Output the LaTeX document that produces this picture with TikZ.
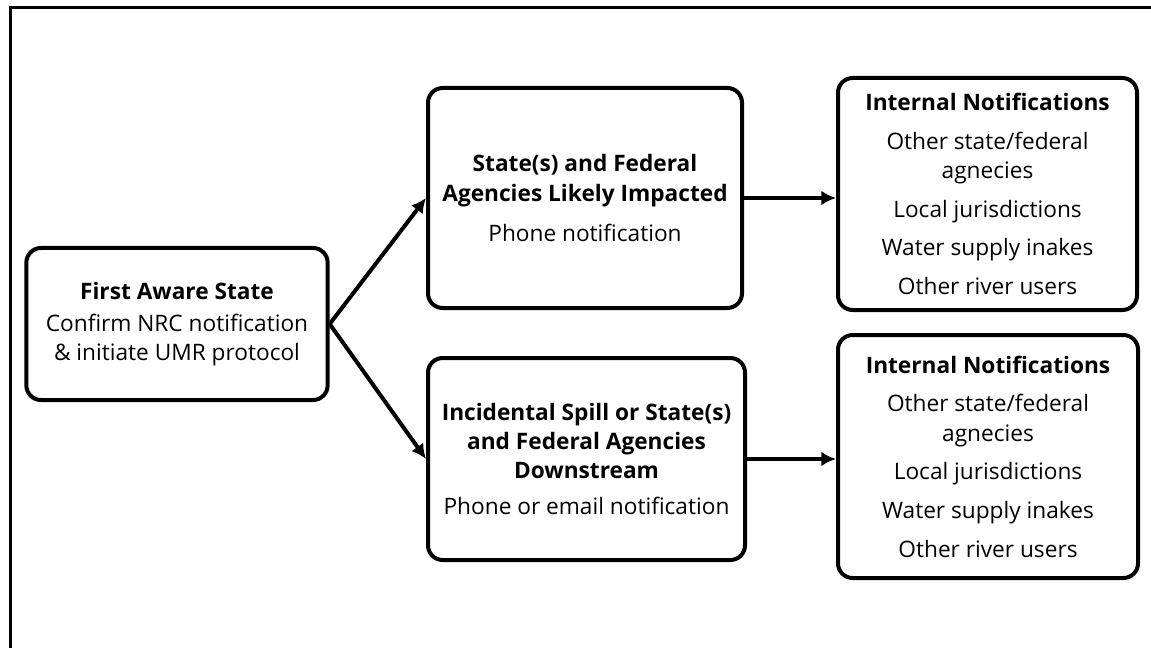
\documentclass[tikz,border=0pt]{standalone}
\usepackage{fontspec}
\setmainfont{Open Sans}
\usetikzlibrary{arrows.meta}

\newcommand{\internallist}{\textbf{Internal Notifications}\\[7pt] Other state/federal\\ agnecies\\[7pt] Local jurisdictions\\[7pt] Water supply inakes\\[7pt] Other river users}

\begin{document}
\begin{tikzpicture}[x = 0.75pt, y = -0.75pt, > = {Latex[length = 11pt, width = 11pt]},
	stage/.style = {draw, line width = 3pt, rounded corners = 11pt, align = center, inner sep = 0pt, font = \fontsize{17}{22}\selectfont},
	flow/.style = {->, line width = 3pt}]

	\useasboundingbox (0, 0) rectangle (1151, 648);

	% Frame

	\draw [line width = 2pt] (10.5, 648) -- (10.5, 7.5) -- (1151, 7.5);

	% Boxes

	\node [stage, minimum width = 226pt, minimum height = 114pt] (aware) at (177, 324)
		{\textbf{First Aware State}\\[2pt] Confirm NRC notification\\ \& initiate UMR protocol};
	\node [stage, minimum width = 235.5pt, minimum height = 165pt] (likely) at (585, 198)
		{\textbf{State(s) and Federal}\\ \textbf{Agencies Likely Impacted}\\[8pt] Phone notification};
	\node [stage, minimum width = 237.75pt, minimum height = 151.5pt] (downstream) at (586.5, 459)
		{\textbf{Incidental Spill or State(s)}\\ \textbf{and Federal Agencies}\\ \textbf{Downstream}\\[5pt] Phone or email notification};
	\node [stage, minimum width = 224.25pt, minimum height = 174pt] (internalA) at (987.5, 194) {\internallist};
	\node [stage, minimum width = 225pt, minimum height = 182.25pt] (internalB) at (988, 456.5) {\internallist};

	% Arrows

	\draw [flow] (aware.east) -- (likely.west);
	\draw [flow] (aware.east) -- (downstream.west);
	\draw [flow] (likely.east) -- (likely.east -| internalA.west);
	\draw [flow] (downstream.east) -- (downstream.east -| internalB.west);

\end{tikzpicture}
\end{document}
